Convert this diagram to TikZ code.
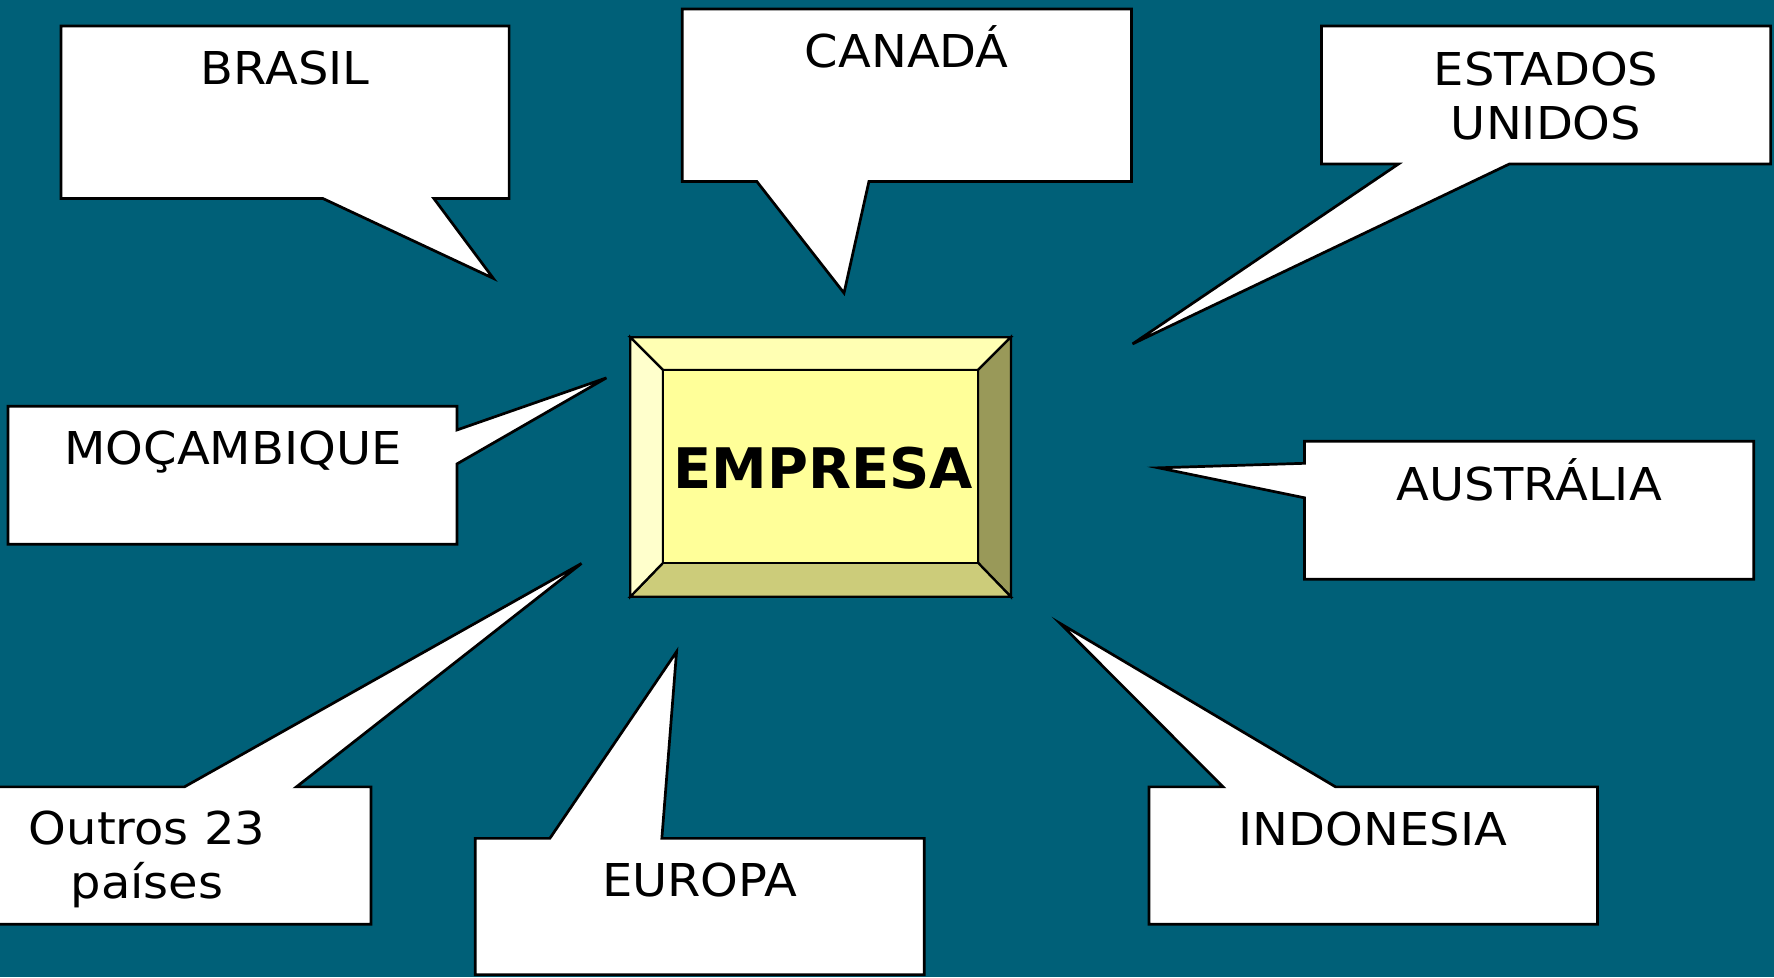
\documentclass[tikz,border=0pt]{standalone}
\usepackage{fontspec}
\setmainfont{DejaVu Sans}[FakeStretch=1.06]
\newfontfamily\plainfamily{DejaVu Sans}
\definecolor{bgteal}{HTML}{006078}
\definecolor{face}{HTML}{FFFF99}
\definecolor{bevtop}{HTML}{FFFFB3}
\definecolor{bevleft}{HTML}{FFFFCC}
\definecolor{bevright}{HTML}{999959}
\definecolor{bevbottom}{HTML}{CCCC7A}
\begin{document}
\begin{tikzpicture}[x=1pt,y=-1pt,
  callout/.style={fill=white, draw=black, line width=2.4pt, line join=miter},
  bevel/.style={draw=black, line width=2pt, line join=miter},
  lbl/.style={anchor=base, inner sep=0pt, font=\fontsize{40}{48}\selectfont},
  title/.style={anchor=base, inner sep=0pt, font=\plainfamily\fontsize{49.4}{56}\selectfont\bfseries}]
\useasboundingbox (0,0) rectangle (1568,863.6);
\clip (0,0) rectangle (1568,863.6);
\fill[bgteal] (0,0) rectangle (1568,863.6);

% BRASIL
\draw[callout] (54,23) -- (450,23) -- (450,175.5) -- (383.5,175.5) -- (436,246) -- (285.5,175.5) -- (54,175.5) -- cycle;
\node[lbl] (brasil) at (252,75) {BRASIL};

% CANADA
\draw[callout] (603,8) -- (1000,8) -- (1000,160.5) -- (768,160.5) -- (746,259) -- (669,160.5) -- (603,160.5) -- cycle;
\node[lbl] (canada) at (801.5,60) {CANADÁ};

% ESTADOS UNIDOS
\draw[callout] (1168,23) -- (1565,23) -- (1565,145) -- (1334,145) -- (1001,304) -- (1236,145) -- (1168,145) -- cycle;
\node[lbl] (eua1) at (1366.5,75.5) {ESTADOS};
\node[lbl] (eua2) at (1366.5,123.5) {UNIDOS};

% MOCAMBIQUE
\draw[callout] (7,359) -- (404,359) -- (404,380) -- (536,334) -- (404,410) -- (404,481) -- (7,481) -- cycle;
\node[lbl] (moz) at (206,411) {MOÇAMBIQUE};

% AUSTRALIA
\draw[callout] (1153,390) -- (1550,390) -- (1550,512) -- (1153,512) -- (1153,440) -- (1024,413.5) -- (1153,409.5) -- cycle;
\node[lbl] (aus) at (1351.5,442) {AUSTRÁLIA};

% OUTROS
\draw[callout] (-69,695.5) -- (163,695.5) -- (514,498) -- (262,695.5) -- (328,695.5) -- (328,817) -- (-69,817) -- cycle;
\node[lbl] (outros1) at (130,746) {Outros 23};
\node[lbl] (outros2) at (130,794) {países};

% EUROPA
\draw[callout] (420,741) -- (486,741) -- (598,576) -- (585,741) -- (817,741) -- (817,861.5) -- (420,861.5) -- cycle;
\node[lbl] (europa) at (618.5,792) {EUROPA};

% INDONESIA
\draw[callout] (1015.5,695.5) -- (1081,695.5) -- (937,551) -- (1180.5,695.5) -- (1412,695.5) -- (1412,817) -- (1015.5,817) -- cycle;
\node[lbl] (indo) at (1213.5,747) {INDONESIA};

% EMPRESA bevel box
\coordinate (o1) at (557,298);
\coordinate (o2) at (893.5,298);
\coordinate (o3) at (893.5,527.5);
\coordinate (o4) at (557,527.5);
\coordinate (i1) at (586,327);
\coordinate (i2) at (864.5,327);
\coordinate (i3) at (864.5,497.5);
\coordinate (i4) at (586,497.5);
\draw[bevel, fill=bevtop] (o1) -- (o2) -- (i2) -- (i1) -- cycle;
\draw[bevel, fill=bevright] (o2) -- (o3) -- (i3) -- (i2) -- cycle;
\draw[bevel, fill=bevbottom] (o3) -- (o4) -- (i4) -- (i3) -- cycle;
\draw[bevel, fill=bevleft] (o4) -- (o1) -- (i1) -- (i4) -- cycle;
\draw[bevel, fill=face] (i1) rectangle (i3);
\draw[bevel] (o1) rectangle (o3);
\node[title] (empresa) at (727.5,432) {EMPRESA};
\end{tikzpicture}
\end{document}
